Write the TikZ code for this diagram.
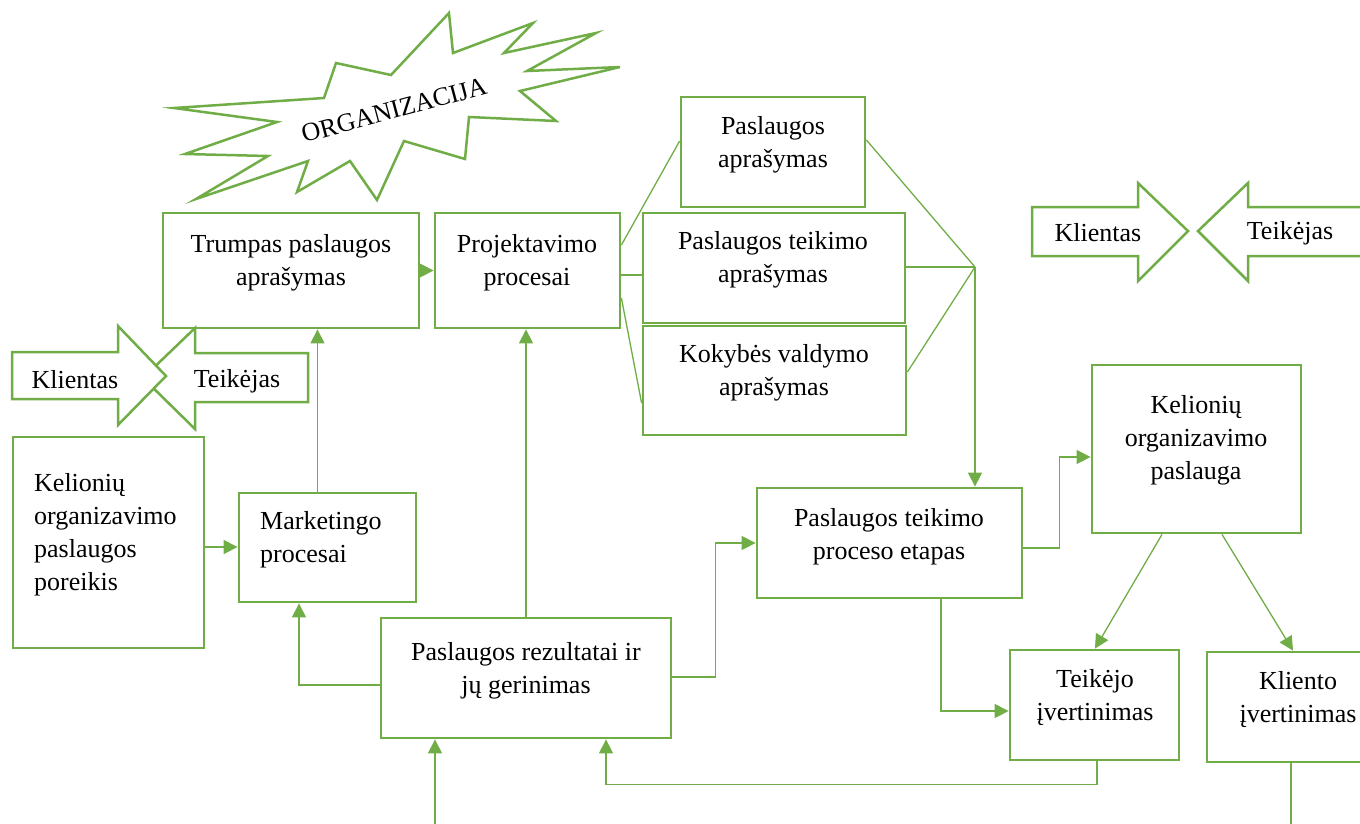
\documentclass[tikz,border=0pt]{standalone}
\usepackage{fontspec}
\setmainfont{Liberation Serif}
\usetikzlibrary{arrows.meta,calc}
\definecolor{grn}{RGB}{112,173,71}
\begin{document}
\begin{tikzpicture}[x=1pt,y=-1pt,
  box/.style={draw=grn, line width=2.8pt, fill=white, inner sep=0pt},
  shp/.style={draw=grn, line width=2.5pt, fill=white, line join=miter},
  conn/.style={draw=grn, line width=1.3pt},
  arr/.style={conn, -{Triangle[length=14pt,width=14pt]}},
  txt/.style={font=\fontsize{26}{33}\selectfont, align=center, inner sep=0pt},
  ltxt/.style={txt, align=left, anchor=west},
]
\useasboundingbox (0,0) rectangle (1360,823);
\clip (0,0) rectangle (1360,823);

% starburst
\draw[shp] (449,13) -- (453,53) -- (533,23) -- (504,53) -- (596,33) -- (527,71) -- (620,67)
  -- (520,91) -- (556,121) -- (469,117) -- (465,159) -- (404,141) -- (377,200) -- (350,161)
  -- (297,192) -- (308,161) -- (196,199) -- (268,156) -- (185,154) -- (277,122) -- (174,108)
  -- (324,98) -- (336,63) -- (391,75) -- cycle;
\node[txt, rotate=15] (org) at (394,110) {ORGANIZACIJA};

% boxes
\node[box, minimum width=256, minimum height=115] (trumpas) at (291,270.5) {};
\node[box, minimum width=185, minimum height=115] (proj) at (527.5,270.5) {};
\node[box, minimum width=184, minimum height=110] (pasapr) at (773,152) {};
\node[box, minimum width=262, minimum height=110] (teikapr) at (774,268) {};
\node[box, minimum width=263, minimum height=109] (kokyb) at (774.5,380.5) {};
\node[box, minimum width=191, minimum height=211] (kelpor) at (108.5,542.5) {};
\node[box, minimum width=177, minimum height=109] (mark) at (327.5,547.5) {};
\node[box, minimum width=290, minimum height=120] (rez) at (526,678) {};
\node[box, minimum width=265, minimum height=110] (etap) at (889.5,543) {};
\node[box, minimum width=209, minimum height=168] (kelpas) at (1196.5,449) {};
\node[box, minimum width=169, minimum height=110] (teikiv) at (1094.5,705) {};
\node[box, minimum width=182, minimum height=110] (klientiv) at (1298,707) {};

% texts
\node[txt] (trumpas-t) at (291,263) {Trumpas paslaugos\\aprašymas};
\node[txt] (proj-t) at (527,263) {Projektavimo\\procesai};
\node[txt] (pasapr-t) at (773,145) {Paslaugos\\aprašymas};
\node[txt] (teikapr-t) at (773,260) {Paslaugos teikimo\\aprašymas};
\node[txt] (kokyb-t) at (774,373) {Kokybės valdymo\\aprašymas};
\node[ltxt] (kelpor-t) at (34,535) {Kelionių\\organizavimo\\paslaugos\\poreikis};
\node[ltxt] (mark-t) at (260,540) {Marketingo\\procesai};
\node[txt] (rez-t) at (526,671) {Paslaugos rezultatai ir\\jų gerinimas};
\node[txt] (etap-t) at (889,537) {Paslaugos teikimo\\proceso etapas};
\node[txt] (kelpas-t) at (1196,440) {Kelionių\\organizavimo\\paslauga};
\node[txt] (teikiv-t) at (1095,698) {Teikėjo\\įvertinimas};
\node[txt] (klientiv-t) at (1298,700) {Kliento\\įvertinimas};

% Klientas / Teikejas (left)
\draw[shp] (143,378) -- (195,328) -- (195,353) -- (308,353) -- (308,402) -- (195,402) -- (195,429) -- cycle;
\draw[shp] (12,352) -- (118,352) -- (118,326) -- (166,376) -- (118,425) -- (118,399) -- (12,399) -- cycle;
\node[txt] (kl1) at (75,380) {Klientas};
\node[txt] (te1) at (237,381) {Teikėjas};

% Klientas / Teikejas (right)
\draw[shp] (1032,207) -- (1138,207) -- (1138,183) -- (1188,231) -- (1138,281) -- (1138,256) -- (1032,256) -- cycle;
\draw[shp] (1198,231) -- (1248,183) -- (1248,207) -- (1380,207) -- (1380,256) -- (1248,256) -- (1248,281) -- cycle;
\node[txt] (kl2) at (1098,233) {Klientas};
\node[txt] (te2) at (1290,233) {Teikėjas};

% connectors
\coordinate (j) at (975,267);
\coordinate (bin) at (435,830);
\draw[arr] (trumpas.east) -- (trumpas.east -| proj.west);
\draw[arr] ([xshift=-10pt]mark.north) -- ([xshift=-10pt]mark.north |- trumpas.south);
\draw[arr] ([yshift=-4.5pt]kelpor.east) -- ([yshift=-4.5pt]kelpor.east -| mark.west);
\draw[arr] (rez.north) -- (rez.north |- proj.south);
\draw[arr] ([yshift=-7pt]rez.west) -| ([xshift=-28.5pt]mark.south);
\draw[arr] (bin) -- (bin |- rez.south);
\draw[arr] ([xshift=2.5pt]teikiv.south) -- ++(0,23) -| ([xshift=80pt]rez.south);
\draw[arr] ([yshift=1pt]rez.east) -- ++(43,0) |- (etap.west);
\draw[arr] ([yshift=-5pt]etap.east) -- ++(36,0) |- ([yshift=-8pt]kelpas.west);
\draw[arr] ([xshift=51.5pt]etap.south) |- ([yshift=-6pt]teikiv.west);
\draw[arr] ([xshift=-34.5pt]kelpas.south) -- ([xshift=0.5pt]teikiv.north);
\draw[arr] ([xshift=25.5pt]kelpas.south) -- ([xshift=-5pt]klientiv.north);
\draw[conn] ([xshift=-7pt]klientiv.south) -- ++(0,70);

\draw[conn] ([yshift=25.5pt]proj.east) -- ([yshift=11pt]pasapr.west);
\draw[conn] ([yshift=-4.5pt]proj.east) -- ([yshift=-4.5pt]proj.east -| teikapr.west);
\draw[conn] ([yshift=-27.5pt]proj.east) -- ([yshift=-22.5pt]kokyb.west);
\draw[conn] ([yshift=12pt]pasapr.east) -- (j);
\draw[conn] ([yshift=1pt]teikapr.east) -- (j);
\draw[conn] ([yshift=8.5pt]kokyb.east) -- (j);
\draw[arr] (j) -- (j |- etap.north);
\end{tikzpicture}
\end{document}
